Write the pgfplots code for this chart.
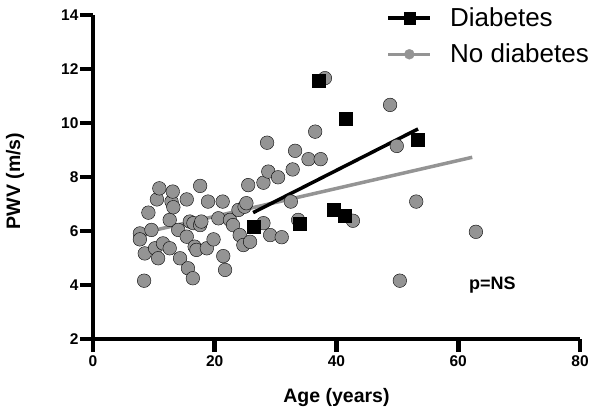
\documentclass[border=0pt]{standalone}
\usepackage{fontspec}
\setmainfont{Liberation Sans}
\usepackage{pgfplots}
\usepackage{pgfplotstable}
\pgfplotsset{compat=1.18}

\definecolor{nodiab}{gray}{0.58}

% Age (years) vs pulse wave velocity (m/s), patients without diabetes
\pgfplotstableread{
age pwv
7.7 5.91
7.7 5.69
8.4 4.16
8.5 5.17
9.1 6.68
9.6 6.04
10.2 5.36
10.5 7.17
10.7 4.99
10.9 7.58
11.5 5.54
12.6 6.41
12.6 5.36
12.9 7.09
13.1 7.46
13.2 6.88
14.0 6.04
14.3 4.99
15.4 7.17
15.4 5.79
15.6 4.62
15.9 6.35
16.4 4.25
16.5 6.29
16.7 5.42
17.0 5.30
17.6 7.67
17.6 6.22
17.8 6.35
18.7 5.36
18.9 7.09
19.8 5.69
20.6 6.47
21.3 7.09
21.4 5.07
21.7 4.56
22.5 6.41
23.0 6.22
23.9 6.78
24.1 5.85
24.7 5.48
24.9 6.90
25.2 7.03
25.5 7.70
25.8 5.60
28.0 7.79
28.0 6.29
28.6 9.27
28.8 8.20
29.1 5.85
30.4 7.99
31.0 5.77
32.5 7.09
32.8 8.28
33.2 8.97
33.7 6.41
35.4 8.66
36.5 9.68
37.4 8.66
38.1 11.66
42.7 6.38
48.8 10.67
49.9 9.15
50.4 4.16
53.1 7.09
62.9 5.97
}\nodiabtable

% Patients with diabetes
\pgfplotstableread{
age pwv
26.4 6.16
33.9 6.28
37.1 11.57
39.5 6.78
41.4 6.56
41.5 10.15
53.4 9.37
}\diabtable

\begin{document}
\begin{tikzpicture}
\useasboundingbox (-93pt,-74pt) rectangle (512pt,339pt);
\begin{axis}[
  scale only axis,
  width=487pt, height=324pt,
  xmin=0, xmax=80, ymin=2, ymax=14,
  axis x line=bottom, axis y line=left,
  x axis line style={-, line width=4.8pt, black},
  y axis line style={-, line width=4.8pt, black},
  xtick={0,20,40,60,80},
  ytick={2,4,6,8,10,12,14},
  tick align=outside,
  major tick length=13pt,
  xtick style={black, line width=4.8pt},
  ytick style={black, line width=4.8pt},
  /pgf/number format/assume math mode=true,
  ticklabel style={font=\bfseries\fontsize{15.5}{15.5}\selectfont},
  yticklabel style={xshift=2pt},
  xlabel={Age (years)},
  ylabel={PWV (m/s)},
  label style={font=\bfseries\fontsize{19.5}{19.5}\selectfont},
  xlabel style={at={(axis description cs:0.5,-0.182)}, anchor=center},
  ylabel style={at={(axis description cs:-0.16,0.488)}, anchor=center, rotate=0},
  clip=false,
  legend style={at={(axis cs:48.2,14.35)}, anchor=north west, draw=none, fill=none,
    font=\fontsize{26}{26}\selectfont, row sep=12pt, inner sep=0pt,
    /tikz/every odd column/.append style={column sep=16pt}},
  legend cell align=left,
]
% scatter of individual patients
\addplot[only marks, mark=*, mark size=6.8pt, draw=none, fill=nodiab, mark options={draw=none, fill=nodiab}, forget plot]
  table[x=age, y=pwv] {\nodiabtable};
\addplot[only marks, mark=square*, mark size=6.5pt, draw=none, fill=black, mark options={draw=none, fill=black}, forget plot]
  table[x=age, y=pwv] {\diabtable};
% linear fits
\addplot[nodiab, line width=3.5pt, forget plot] coordinates {(8,5.92) (62.3,8.73)};
\addplot[black, line width=3.5pt, forget plot] coordinates {(26.3,6.68) (53.4,9.78)};

\addlegendimage{legend image code/.code={
  \draw[black, line width=3.5pt] (0pt,0pt) -- (42pt,0pt);
  \fill[black] (16pt,-6pt) rectangle (27pt,6pt);}}
\addlegendentry{Diabetes}
\addlegendimage{legend image code/.code={
  \draw[nodiab, line width=3.5pt] (0pt,0pt) -- (42pt,0pt);
  \fill[nodiab] (21pt,0pt) circle (5pt);}}
\addlegendentry{No diabetes}

\node[font=\bfseries\fontsize{18}{18}\selectfont] at (axis cs:65.6,4.0) {p=NS};
\end{axis}
\end{tikzpicture}
\end{document}
